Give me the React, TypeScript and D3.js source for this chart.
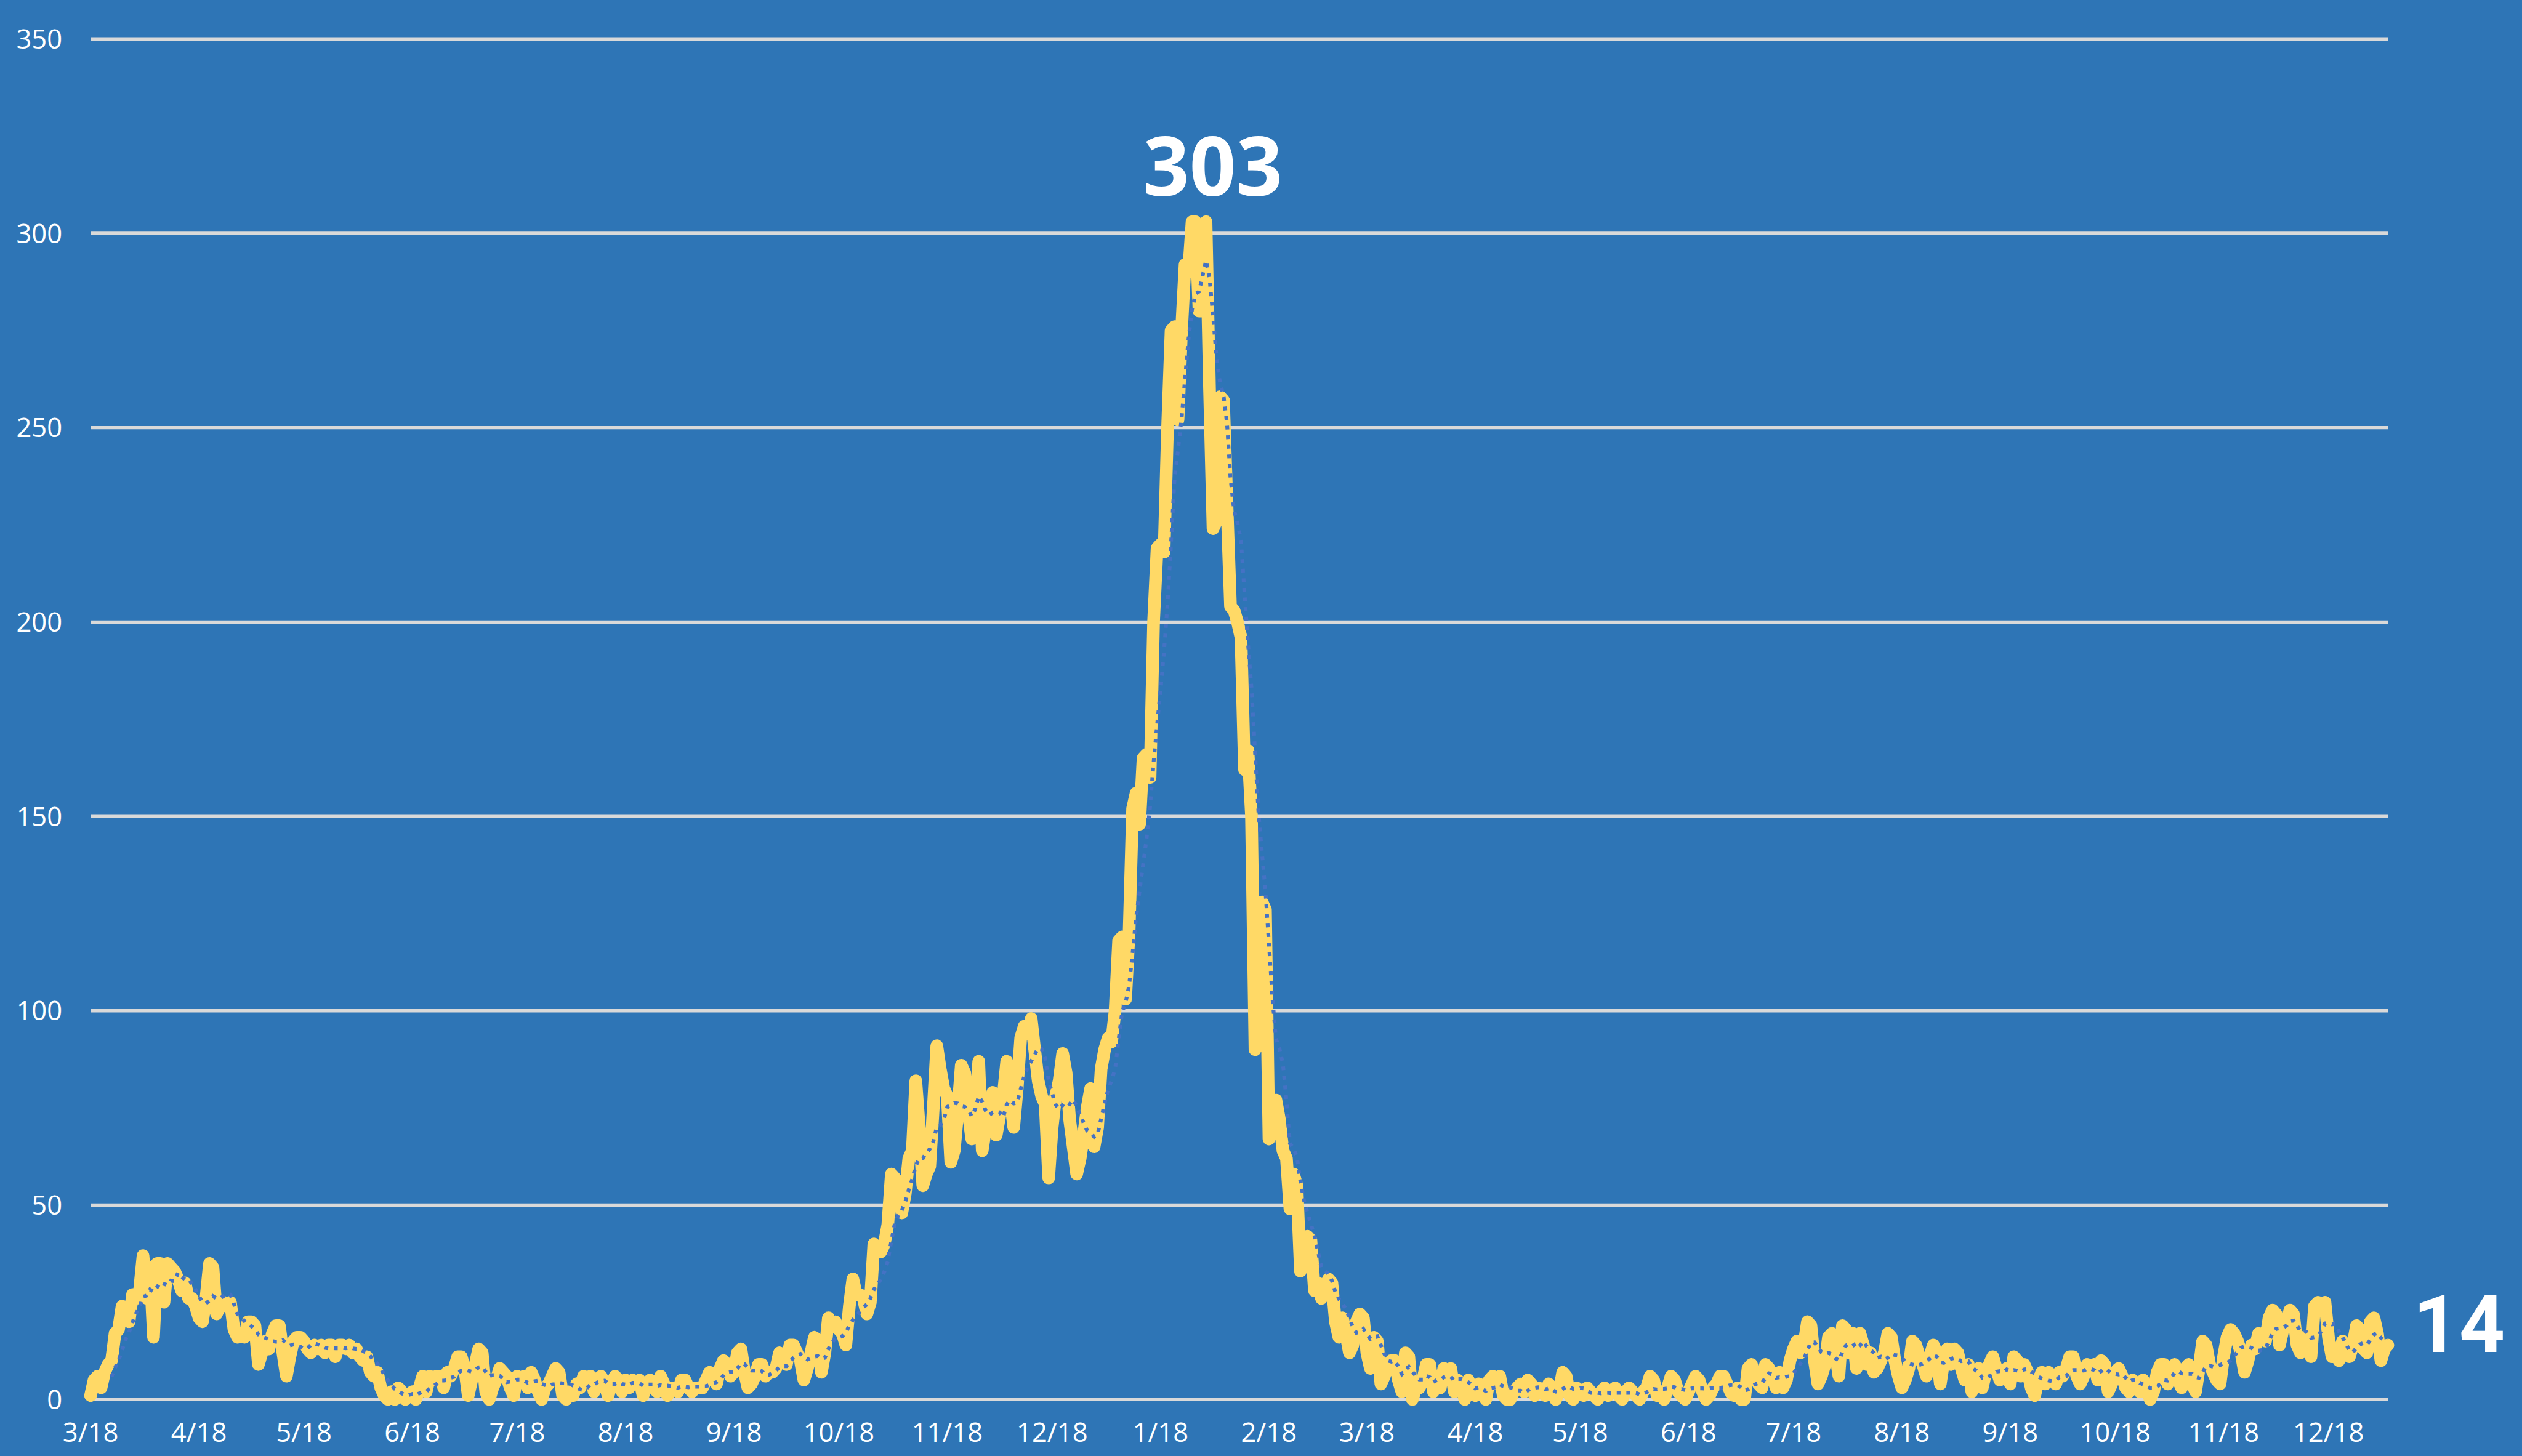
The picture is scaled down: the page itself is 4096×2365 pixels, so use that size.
import React from "react";
import * as d3 from "d3";

// Daily values, starting 3/18/2020
const START = new Date(2020, 2, 18);

const casesA = [
  1, 5, 6, 3, 7, 9, 10, 17, 18, 24,
  23, 20, 27, 26, 28, 37, 26, 34, 16, 35,
  35, 25, 35, 34, 33, 31, 28, 30, 26, 26,
  24, 21, 20, 26, 35, 34, 22, 24, 25, 24,
  25, 18, 16, 17, 16, 20, 20, 19, 9, 12,
  15, 13, 17, 19, 19, 12, 6, 11, 15, 16,
  16, 15, 13, 12, 14, 13, 14, 12, 14, 14,
  11, 14, 14, 13, 14, 12, 13, 11, 10, 11,
  7, 6, 7, 3, 1, 0, 2, 0, 3, 2,
  0, 1, 2, 0, 3, 6, 2, 6, 5, 6,
  6, 3, 7, 6, 8, 11, 11, 8, 1, 5,
  9, 13, 12, 2, 0, 3, 5, 8, 7, 6,
  3, 1, 6, 5, 6, 3, 7, 5, 2, 0,
  3, 4, 6, 8, 7, 1, 0, 2, 1, 4,
  3, 6, 5, 6, 2, 5, 6, 4, 1, 4,
  6, 5, 2, 5, 3, 5, 4, 5, 1, 4,
  5, 3, 2, 6, 4, 1, 3, 3, 2, 5,
  5, 3, 2, 3, 3, 3, 5, 7, 6, 4,
  8, 10, 9, 6, 7, 12, 13, 7, 3, 4,
  6, 9, 9, 6, 7, 7, 8, 12, 11, 9,
  14, 14, 12, 10, 5, 8, 12, 16, 15, 7,
  12, 21, 19, 20, 18, 17, 14, 24, 31, 27,
];

const casesB = [
  27, 26, 22, 25, 40, 39, 38, 40, 45, 58,
  57, 55, 48, 53, 62, 64, 82, 70, 55, 58,
  60, 75, 91, 85, 80, 78, 61, 64, 74, 86,
  84, 74, 67, 74, 87, 64, 70, 76, 79, 68,
  73, 78, 87, 78, 70, 80, 93, 96, 94, 98,
  90, 82, 78, 76, 57, 70, 78, 82, 89, 84,
  72, 65, 58, 62, 68, 75, 80, 65, 70, 85,
  90, 93, 92, 100, 118, 119, 103, 120, 152, 156,
  148, 165, 166, 160, 200, 219, 220, 218, 250, 275,
  276, 252, 275, 292, 290, 303, 303, 280, 280, 303,
  260, 224, 226, 258, 257, 230, 204, 203, 200, 196,
  162, 167, 150, 90, 92, 128, 126, 67, 70, 77,
  72, 64, 62, 49, 58, 55, 33, 38, 42, 41,
  28, 30, 26, 28, 31, 30, 20, 16, 21, 17,
  12, 14, 20, 22, 21, 12, 8, 16, 15, 4,
  6, 9, 10, 10, 5, 2, 12, 11, 0, 3,
  3, 5, 9, 9, 2, 4, 3, 8, 7, 8,
  2, 5, 4, 0, 5, 3, 1, 4, 2, 0,
  5, 6, 4, 6, 1, 0, 0, 2, 3, 4,
  2, 5, 4, 1, 3, 2, 1, 4, 3, 0,
  2, 7, 6, 1, 0, 3, 2, 1, 3, 2,
  1, 0, 2, 3, 1, 2, 3, 1, 0, 2,
];

const casesC = [
  3, 2, 1, 0, 2, 3, 6, 5, 1, 2,
  0, 3, 6, 5, 2, 1, 0, 2, 4, 6,
  5, 2, 0, 1, 3, 4, 6, 6, 4, 2,
  1, 3, 0, 0, 8, 9, 6, 4, 3, 9,
  8, 6, 3, 7, 3, 5, 10, 13, 15, 12,
  14, 20, 19, 10, 4, 6, 9, 16, 17, 12,
  6, 19, 18, 12, 17, 8, 17, 14, 9, 12,
  7, 8, 10, 12, 17, 16, 10, 6, 3, 5,
  8, 15, 14, 11, 9, 6, 11, 14, 12, 4,
  10, 13, 9, 13, 12, 8, 5, 9, 2, 4,
  8, 3, 7, 9, 11, 8, 5, 6, 8, 4,
  11, 10, 6, 9, 7, 3, 1, 5, 7, 4,
  7, 6, 4, 7, 6, 8, 11, 11, 6, 4,
  6, 9, 8, 9, 5, 10, 9, 2, 4, 7,
  8, 6, 3, 2, 5, 4, 2, 5, 3, 0,
  2, 7, 9, 9, 4, 8, 9, 5, 3, 8,
  9, 4, 2, 8, 15, 14, 9, 7, 5, 4,
  11, 16, 18, 17, 15, 12, 7, 10, 14, 13,
  17, 16, 15, 21, 23, 22, 14, 18, 20, 23,
  22, 14, 12, 16, 13, 11, 24, 25, 23, 25,
  16, 11, 12, 10, 15, 12, 11, 14, 19, 18,
  13, 12, 20, 21, 17, 10, 13, 14,
];

const yTicks = [0, 50, 100, 150, 200, 250, 300, 350];
const MA_PERIOD = 7;

export default function App() {
  const W = 4096;
  const H = 2365;
  const k = W / 4984;

  const values = [...casesA, ...casesB, ...casesC];
  const data = values.map((v, i) => ({ date: d3.timeDay.offset(START, i), v }));
  const ma = data
    .map((d, i) =>
      i < MA_PERIOD - 1
        ? null
        : { date: d.date, v: d3.mean(values.slice(i - MA_PERIOD + 1, i + 1)) as number }
    )
    .filter((d) => d !== null) as { date: Date; v: number }[];

  const x = d3
    .scaleTime()
    .domain([data[0].date, data[data.length - 1].date])
    .range([179 * k, 4719 * k]);
  const y = d3.scaleLinear().domain([0, 350]).range([2766 * k, 77 * k]);

  const line = d3
    .line<{ date: Date; v: number }>()
    .x((d) => x(d.date))
    .y((d) => y(d.v));

  const monthTicks = d3
    .timeMonth.range(new Date(2020, 2, 1), new Date(2022, 0, 1))
    .map((m) => new Date(m.getFullYear(), m.getMonth(), 18));
  const fmt = d3.timeFormat("%-m/%-d");

  const maxVal = d3.max(values) as number;
  const maxIdx = values.indexOf(maxVal);
  const last = data[data.length - 1];

  const axisFont = "'Open Sans', 'Segoe UI', sans-serif";

  return (
    <svg
      width={W}
      height={H}
      style={{ position: "absolute", left: 0, top: 0, display: "block" }}
    >
      <rect x={0} y={0} width={W} height={H} fill="#2E75B6" />
      {yTicks.map((t) => (
        <g key={t}>
          <line
            x1={x.range()[0]}
            x2={x.range()[1]}
            y1={y(t)}
            y2={y(t)}
            stroke="#D9D9D9"
            strokeWidth={6.5 * k}
          />
          <text
            x={123 * k}
            y={y(t)}
            dy="0.36em"
            textAnchor="end"
            fill="#FFFFFF"
            fontFamily={axisFont}
            fontSize={53 * k}
          >
            {t}
          </text>
        </g>
      ))}
      {monthTicks.map((t, i) => (
        <text
          key={i}
          x={x(t)}
          y={2850 * k}
          textAnchor="middle"
          fill="#FFFFFF"
          fontFamily={axisFont}
          fontSize={53 * k}
        >
          {fmt(t)}
        </text>
      ))}
      <path
        d={line(data) || ""}
        fill="none"
        stroke="#FFD966"
        strokeWidth={25 * k}
        strokeLinejoin="round"
        strokeLinecap="round"
      />
      <path
        d={line(ma) || ""}
        fill="none"
        stroke="#4472C4"
        strokeWidth={7.5 * k}
        strokeDasharray={`${7.5 * k} ${11.5 * k}`}
      />
      <text
        x={x(data[maxIdx].date) + 41 * k}
        y={y(maxVal) - 51 * k}
        textAnchor="middle"
        fill="#FFFFFF"
        fontFamily="'Open Sans', 'Segoe UI', sans-serif"
        fontWeight={700}
        fontSize={161 * k}
      >
        {maxVal}
      </text>
      <text
        x={x(last.date) + 50 * k}
        y={y(last.v) + 14 * k}
        textAnchor="start"
        fill="#FFFFFF"
        fontFamily="'Liberation Sans Narrow', 'Roboto', sans-serif"
        fontWeight={700}
        fontSize={158 * k}
      >
        {last.v}
      </text>
    </svg>
  );
}
